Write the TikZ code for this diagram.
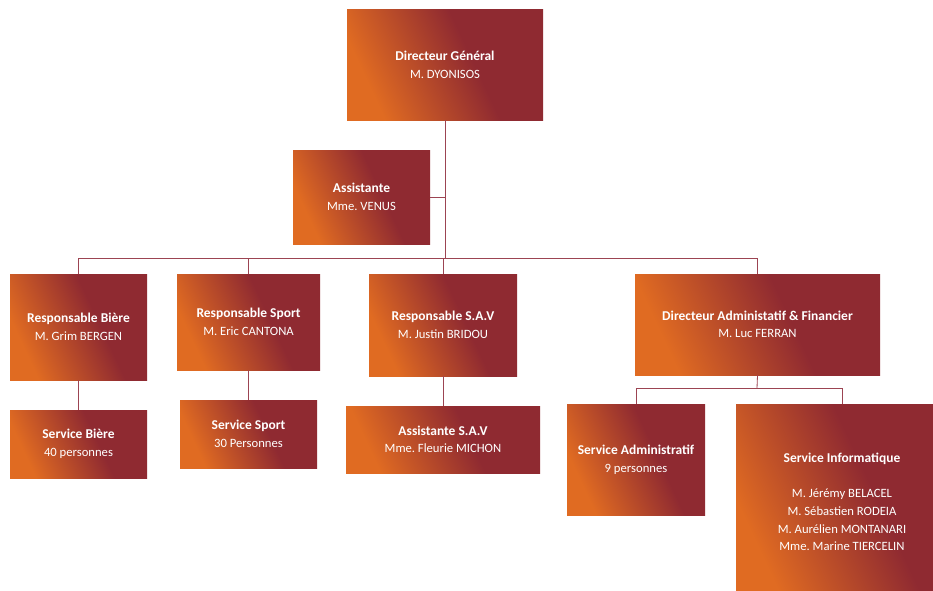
\documentclass[tikz,border=0pt]{standalone}
\usepackage{fontspec}
\setmainfont{Carlito}
\usetikzlibrary{calc}
\frenchspacing

\definecolor{boxorange}{HTML}{E06B22}
\definecolor{boxred}{HTML}{8F2A31}
\definecolor{linkred}{HTML}{9C4452}
\pgfdeclarehorizontalshading{orgshade}{100bp}{color(0bp)=(boxorange); color(27bp)=(boxorange); color(58bp)=(boxred); color(100bp)=(boxred)}

\newcommand\boxtitle[1]{\textbf{\fontsize{11.5}{15}\selectfont #1}}

\tikzset{
  orgbox/.style={shade, shading=orgshade, shading angle=25, text=white,
    align=center, inner sep=0pt, font=\fontsize{10.8}{15}\selectfont},
  boxsize/.style 2 args={minimum width=#1*0.03cm, minimum height=#2*0.03cm},
  link/.style={linkred, line width=0.7pt}
}

\begin{document}
\begin{tikzpicture}[x=0.03cm,y=-0.03cm]
  \useasboundingbox (0,0) rectangle (933,590);
  \clip (0,0) rectangle (933,590);
  % direction
  \node[orgbox, boxsize={196}{110}] (dg) at (445,65) {\boxtitle{Directeur Général}\\M. DYONISOS};
  \node[orgbox, boxsize={137}{94}] (asst) at (361.5,197) {\boxtitle{Assistante}\\Mme. VENUS};
  % responsables
  \node[orgbox, boxsize={137}{106}] (biere) at (78.5,327) {\boxtitle{Responsable Bière}\\M. Grim BERGEN};
  \node[orgbox, boxsize={143}{96}] (sport) at (248.5,322) {\boxtitle{Responsable Sport}\\M. Eric CANTONA};
  \node[orgbox, boxsize={148}{102}] (sav) at (443,325) {\boxtitle{Responsable S.A.V}\\M. Justin BRIDOU};
  \node[orgbox, boxsize={245}{101}] (daf) at (757.5,324.5) {\boxtitle{Directeur Administatif \& Financier}\\M. Luc FERRAN};
  % services
  \node[orgbox, boxsize={137}{68}] (sbiere) at (78.5,444) {\boxtitle{Service Bière}\\40 personnes};
  \node[orgbox, boxsize={137}{68}] (ssport) at (248.5,434) {\boxtitle{Service Sport}\\30 Personnes};
  \node[orgbox, boxsize={194}{67}] (asav) at (443,439.5) {\boxtitle{Assistante S.A.V}\\Mme. Fleurie MICHON};
  \node[orgbox, boxsize={138}{111}] (sadmin) at (636,459.5) {\boxtitle{Service Administratif}\\9 personnes};
  \node[orgbox, boxsize={212}{196}] (sinfo) at (842,502) {\boxtitle{Service Informatique}\\[15pt]M. Jérémy BELACEL\\M. Sébastien RODEIA\\M. Aurélien MONTANARI\\Mme. Marine TIERCELIN};

  % liens
  \coordinate (bus) at (445,258);
  \draw[link] (dg.south) -- (bus);
  \draw[link] (asst.east) -- (asst.east -| dg.south);
  \draw[link] (biere.north |- bus) -- (daf.north |- bus);
  \foreach \n in {biere,sport,sav,daf}
    \draw[link] (\n.north |- bus) -- (\n.north);
  \draw[link] (biere.south) -- (sbiere.north);
  \draw[link] (sport.south) -- (ssport.north);
  \draw[link] (sav.south) -- (asav.north);
  \coordinate (dafbus) at (757,388);
  \draw[link] (daf.south) -- (dafbus);
  \draw[link] (sadmin.north |- dafbus) -- (sinfo.north |- dafbus);
  \foreach \n in {sadmin,sinfo}
    \draw[link] (\n.north |- dafbus) -- (\n.north);
\end{tikzpicture}
\end{document}
